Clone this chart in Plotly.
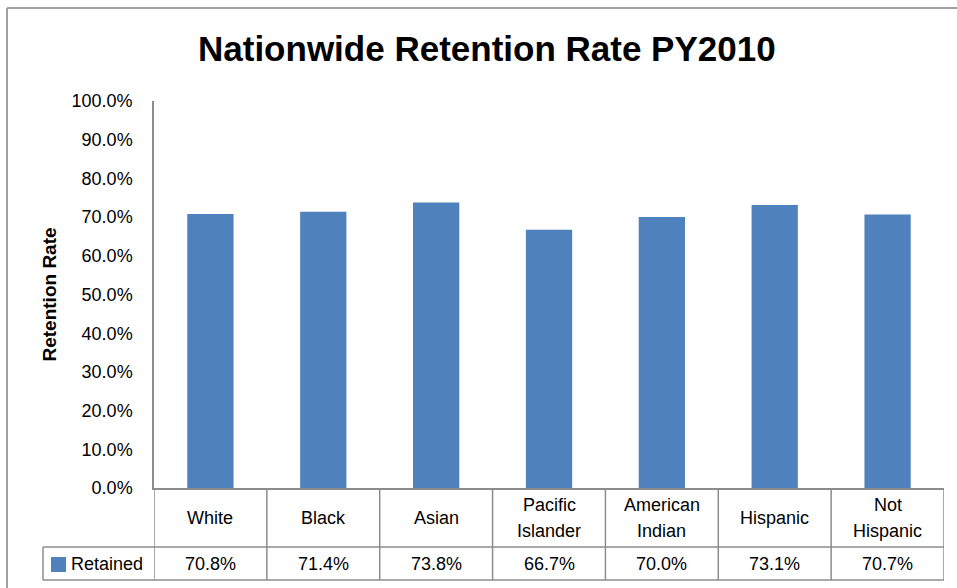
import plotly.graph_objects as go

categories = ["White", "Black", "Asian", "Pacific Islander", "American Indian", "Hispanic", "Not Hispanic"]
header_lines = [["White"], ["Black"], ["Asian"], ["Pacific", "Islander"], ["American", "Indian"], ["Hispanic"], ["Not", "Hispanic"]]
retained = [70.8, 71.4, 73.8, 66.7, 70.0, 73.1, 70.7]
series_name = "Retained"
y_ticks = [0, 10, 20, 30, 40, 50, 60, 70, 80, 90, 100]
y_ticktext = [f"{t:.1f}%" for t in y_ticks]

W, H = 957, 588
L, R, T, B = 154, 944, 101, 488
BAR = "#4F81BD"
GRID = "#8C8C8C"
FONT = "Liberation Sans, Arial, sans-serif"

def px_x(p):
    return (p - L) / (R - L)

def px_y(p):
    return (B - p) / (B - T)

fig = go.Figure()
fig.add_trace(go.Bar(
    x=list(range(len(categories))), y=retained, name=series_name,
    marker=dict(color=BAR, line=dict(width=0)), width=0.41,
    hovertext=categories,
))

shapes = []
ann = []
row1_bot, row2_bot = 547, 580
leg_left = 43
line = dict(color=GRID, width=1.5)
shapes.append(dict(type="line", xref="paper", yref="paper", x0=px_x(leg_left), x1=1,
                   y0=px_y(row1_bot), y1=px_y(row1_bot), line=line))
shapes.append(dict(type="line", xref="paper", yref="paper", x0=px_x(leg_left), x1=1,
                   y0=px_y(row2_bot), y1=px_y(row2_bot), line=line))
shapes.append(dict(type="line", xref="paper", yref="paper", x0=px_x(leg_left), x1=px_x(leg_left),
                   y0=px_y(row1_bot), y1=px_y(row2_bot), line=line))
for i in range(len(categories) + 1):
    shapes.append(dict(type="line", xref="x", yref="paper", x0=i - 0.5, x1=i - 0.5,
                       y0=0, y1=px_y(row2_bot), line=line))
shapes.append(dict(type="rect", xref="paper", yref="paper", x0=px_x(51), x1=px_x(66),
                   y0=px_y(557), y1=px_y(572), fillcolor=BAR, line=dict(width=0)))
frame = dict(color="#A0A0A0", width=2)
shapes.append(dict(type="line", xref="paper", yref="paper", x0=px_x(7), x1=px_x(W + 5),
                   y0=px_y(8), y1=px_y(8), line=frame))
shapes.append(dict(type="line", xref="paper", yref="paper", x0=px_x(7), x1=px_x(7),
                   y0=px_y(8), y1=px_y(H + 5), line=frame))

tfont = dict(family=FONT, size=18, color="#000")
for i, (lines, v) in enumerate(zip(header_lines, retained)):
    if len(lines) == 1:
        ys = [518]
    else:
        ys = [505, 531]
    for txt, yy in zip(lines, ys):
        ann.append(dict(x=i, y=px_y(yy), xref="x", yref="paper", text=txt, showarrow=False,
                        font=tfont, xanchor="center", yanchor="middle"))
    ann.append(dict(x=i, y=px_y(564), xref="x", yref="paper", text=f"{v:.1f}%", showarrow=False,
                    font=tfont, xanchor="center", yanchor="middle"))
ann.append(dict(x=px_x(69), y=px_y(564), xref="paper", yref="paper", text=series_name, showarrow=False,
                font=tfont, xanchor="left", yanchor="middle"))
ann.append(dict(x=px_x(49), y=0.5, xref="paper", yref="paper", text="<b>Retention Rate</b>", showarrow=False,
                textangle=-90, font=dict(family=FONT, size=19, color="#000"), xanchor="center", yanchor="middle"))
ann.append(dict(x=px_x(487), y=px_y(48), xref="paper", yref="paper", text="<b>Nationwide Retention Rate PY2010</b>",
                showarrow=False, font=dict(family=FONT, size=35, color="#000"),
                xanchor="center", yanchor="middle"))

fig.update_layout(
    width=W, height=H, margin=dict(l=L, r=W - R, t=T, b=H - B),
    paper_bgcolor="white", plot_bgcolor="white", showlegend=False,
    shapes=shapes, annotations=ann,
    xaxis=dict(range=[-0.5, len(categories) - 0.5], showticklabels=False, showgrid=False,
               showline=True, linecolor=GRID, linewidth=1.5, zeroline=False, ticks=""),
    yaxis=dict(range=[0, 100], tickvals=y_ticks, ticktext=y_ticktext, showgrid=False,
               showline=True, linecolor=GRID, linewidth=1.5, zeroline=False, ticks="",
               ticklabelstandoff=16, tickfont=dict(family=FONT, size=18, color="#000")),
)
fig.write_html("out.html", config={"displayModeBar": False},
               post_script="document.body.style.margin='0px';")
